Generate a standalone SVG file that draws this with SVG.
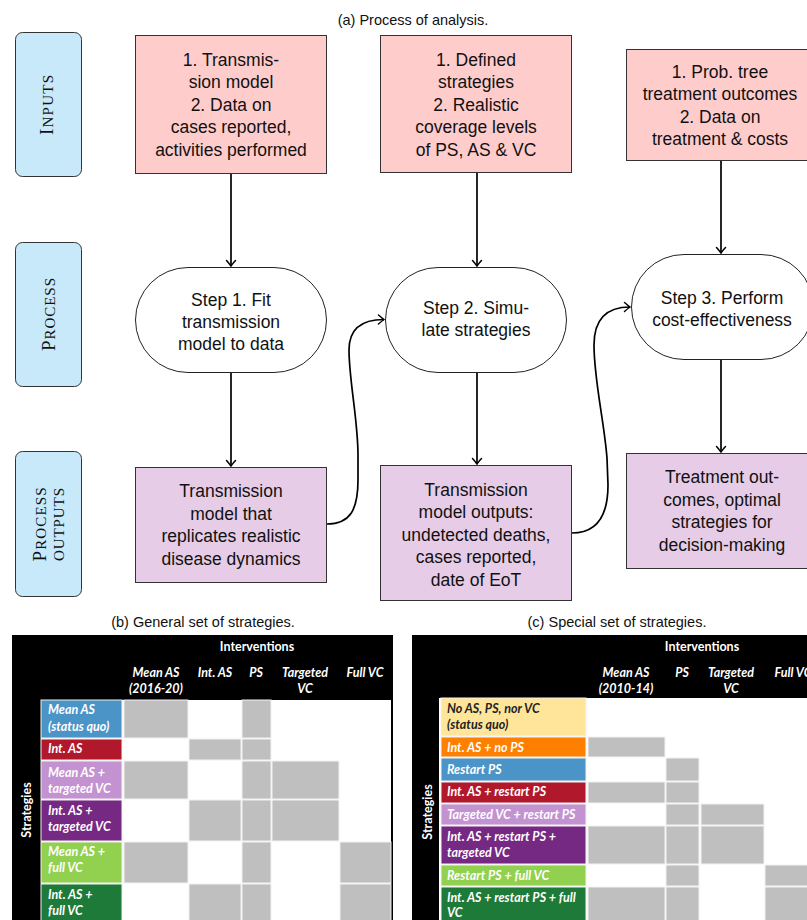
<svg xmlns="http://www.w3.org/2000/svg" width="807" height="920" viewBox="0 0 807 920">
<defs>
<style>
.cap{font-family:"Liberation Sans",Arial,sans-serif;font-size:14.5px;fill:#111;text-anchor:middle}
.nt{font-family:"Liberation Sans",Arial,sans-serif;font-size:17.5px;fill:#111;text-anchor:middle}
.lab{fill:#c8e9f9;stroke:#333;stroke-width:1}
.inp{fill:#ffcccc;stroke:#333;stroke-width:1}
.out{fill:#e6cce6;stroke:#333;stroke-width:1}
.stp{fill:#fff;stroke:#222;stroke-width:1}
.sc{font-family:"Liberation Serif","Times New Roman",serif;fill:#111;text-anchor:middle}
.big{font-size:19px}
.sm{font-size:15px}
.edge{fill:none;stroke:#000;stroke-width:1.7;marker-end:url(#ah)}
.tb{font-family:Lato,"Open Sans",sans-serif;font-weight:bold;font-style:italic;font-size:12.5px;fill:#fff}
.th{font-family:Lato,"Open Sans",sans-serif;font-weight:bold;font-size:12.5px;fill:#fff;text-anchor:middle}
.thi{font-family:Lato,"Open Sans",sans-serif;font-weight:bold;font-style:italic;font-size:12.5px;fill:#fff;text-anchor:middle}
.gc{fill:#bfbfbf;stroke:#f2f2f2;stroke-width:1}
.blk{fill:#000}
.lc{stroke:#f2f2f2;stroke-width:1}
</style>
<marker id="ah" viewBox="-7 -6 9 12" refX="0" refY="0" markerWidth="9" markerHeight="12" markerUnits="userSpaceOnUse" orient="auto">
<path d="M-5.5,-4.5 Q-1.5,-1 0,0 Q-1.5,1 -5.5,4.5" fill="none" stroke="#000" stroke-width="1.5" stroke-linecap="round"/>
</marker>
</defs>
<rect width="807" height="920" fill="#fff"/>

<g id="caption-a"><text class="cap" x="413" y="25">(a) Process of analysis.</text></g>

<g id="label-inputs">
<rect class="lab" x="15.5" y="32.5" width="66" height="144" rx="7"/>
<text class="sc" transform="translate(53,105) rotate(-90)" textLength="60" lengthAdjust="spacing"><tspan class="big">I</tspan><tspan class="sm">NPUTS</tspan></text>
</g>
<g id="label-process">
<rect class="lab" x="15.5" y="242.5" width="66" height="144" rx="7"/>
<text class="sc" transform="translate(54.5,314.5) rotate(-90)" textLength="73" lengthAdjust="spacing"><tspan class="big">P</tspan><tspan class="sm">ROCESS</tspan></text>
</g>
<g id="label-outputs">
<rect class="lab" x="15.5" y="451.5" width="66" height="145" rx="7"/>
<text class="sc" transform="translate(45.5,524.5) rotate(-90)" textLength="74" lengthAdjust="spacing"><tspan class="big">P</tspan><tspan class="sm">ROCESS</tspan></text>
<text class="sc sm" transform="translate(63.5,524.5) rotate(-90)" textLength="73" lengthAdjust="spacing">OUTPUTS</text>
</g>

<g id="in1">
<rect class="inp" x="135.5" y="35.5" width="191" height="138"/>
<text class="nt"><tspan x="231" y="65.5">1.  Transmis-</tspan><tspan x="231" y="88">sion model</tspan><tspan x="231" y="110.5">2.  Data on</tspan><tspan x="231" y="133">cases reported,</tspan><tspan x="231" y="155.5">activities performed</tspan></text>
</g>
<g id="in2">
<rect class="inp" x="380.5" y="35.5" width="191" height="137"/>
<text class="nt"><tspan x="476" y="65.5">1.  Defined</tspan><tspan x="476" y="88">strategies</tspan><tspan x="476" y="110.5">2.  Realistic</tspan><tspan x="476" y="133">coverage levels</tspan><tspan x="476" y="155.5">of PS, AS &amp; VC</tspan></text>
</g>
<g id="in3">
<rect class="inp" x="626.5" y="49.5" width="188" height="111"/>
<text class="nt"><tspan x="720" y="77.5">1.  Prob.  tree</tspan><tspan x="720" y="100">treatment outcomes</tspan><tspan x="720" y="122.5">2.  Data on</tspan><tspan x="720" y="145">treatment &amp; costs</tspan></text>
</g>

<g id="step1">
<rect class="stp" x="135.5" y="267.5" width="191" height="105" rx="52.5"/>
<text class="nt"><tspan x="231" y="305.5">Step 1.  Fit</tspan><tspan x="231" y="327.5">transmission</tspan><tspan x="231" y="349.5">model to data</tspan></text>
</g>
<g id="step2">
<rect class="stp" x="385.5" y="267.5" width="181" height="105" rx="52.5"/>
<text class="nt"><tspan x="476" y="314">Step 2.  Simu-</tspan><tspan x="476" y="336">late strategies</tspan></text>
</g>
<g id="step3">
<rect class="stp" x="631.5" y="254.5" width="182" height="105" rx="52.5"/>
<text class="nt"><tspan x="722" y="303.5">Step 3.  Perform</tspan><tspan x="722" y="325.5">cost-effectiveness</tspan></text>
</g>

<g id="out1">
<rect class="out" x="135.5" y="467.5" width="191" height="115"/>
<text class="nt"><tspan x="231" y="497">Transmission</tspan><tspan x="231" y="519.5">model that</tspan><tspan x="231" y="542">replicates realistic</tspan><tspan x="231" y="564.5">disease dynamics</tspan></text>
</g>
<g id="out2">
<rect class="out" x="380.5" y="465.5" width="191" height="135"/>
<text class="nt"><tspan x="476" y="495.5">Transmission</tspan><tspan x="476" y="518">model outputs:</tspan><tspan x="476" y="540.5">undetected deaths,</tspan><tspan x="476" y="563">cases reported,</tspan><tspan x="476" y="585.5">date of EoT</tspan></text>
</g>
<g id="out3">
<rect class="out" x="626.5" y="453.5" width="188" height="115"/>
<text class="nt"><tspan x="722" y="483">Treatment out-</tspan><tspan x="722" y="505.5">comes, optimal</tspan><tspan x="722" y="528">strategies for</tspan><tspan x="722" y="550.5">decision-making</tspan></text>
</g>

<g id="connectors">
<path class="edge" d="M231,174 L231,266"/>
<path class="edge" d="M477,173 L477,266"/>
<path class="edge" d="M721,161 L721,253"/>
<path class="edge" d="M231,373 L231,466"/>
<path class="edge" d="M477,373 L477,464"/>
<path class="edge" d="M721,360 L721,452"/>
<path class="edge" d="M327,524 C350,524 358,510 358,480 L358,455 C358,420 349,380 349,350 C349,330 360,319.5 384,319.5"/>
<path class="edge" d="M572,533 C598,533 608,515 608,485 L607,458 C604,420 594,380 594,345 C594,320 605,307 630,307"/>
</g>

<g id="caption-b"><text class="cap" x="203" y="627">(b) General set of strategies.</text></g>
<g id="table-b">
<rect class="blk" x="12" y="635" width="381" height="65"/>
<rect class="blk" x="12" y="700" width="29" height="220"/>
<rect fill="#fff" x="41" y="700" width="350" height="220"/>
<rect class="blk" x="391" y="700" width="2" height="220"/>
<text class="th" x="257" y="651">Interventions</text>
<text class="thi"><tspan x="156" y="677">Mean AS</tspan><tspan x="156" y="693">(2016-20)</tspan></text>
<text class="thi" x="215" y="677">Int. AS</text>
<text class="thi" x="256" y="677">PS</text>
<text class="thi"><tspan x="305" y="677">Targeted</tspan><tspan x="305" y="693">VC</tspan></text>
<text class="thi" x="365" y="677">Full VC</text>
<text class="th" transform="translate(31,810) rotate(-90)">Strategies</text>
<rect class="lc" fill="#4a94c7" x="41" y="700" width="81" height="38"/>
<rect class="lc" fill="#b2182b" x="41" y="739" width="81" height="21"/>
<rect class="lc" fill="#c392d0" x="41" y="761" width="81" height="38"/>
<rect class="lc" fill="#762982" x="41" y="800" width="81" height="41"/>
<rect class="lc" fill="#92d050" x="41" y="842" width="81" height="41"/>
<rect class="lc" fill="#1e7a39" x="41" y="884" width="81" height="40"/>
<text class="tb"><tspan x="48" y="714">Mean AS</tspan><tspan x="48" y="731">(status quo)</tspan></text>
<text class="tb" x="48" y="753">Int. AS</text>
<text class="tb"><tspan x="48" y="777">Mean AS +</tspan><tspan x="48" y="793">targeted VC</tspan></text>
<text class="tb"><tspan x="48" y="815">Int. AS +</tspan><tspan x="48" y="831">targeted VC</tspan></text>
<text class="tb"><tspan x="48" y="856">Mean AS +</tspan><tspan x="48" y="872">full VC</tspan></text>
<text class="tb"><tspan x="48" y="899">Int. AS +</tspan><tspan x="48" y="915">full VC</tspan></text>
<rect class="gc" x="124" y="700" width="64" height="38"/>
<rect class="gc" x="242" y="700" width="29" height="38"/>
<rect class="gc" x="189" y="739" width="52" height="21"/>
<rect class="gc" x="242" y="739" width="29" height="21"/>
<rect class="gc" x="124" y="761" width="64" height="38"/>
<rect class="gc" x="242" y="761" width="29" height="38"/>
<rect class="gc" x="272" y="761" width="67" height="38"/>
<rect class="gc" x="189" y="800" width="52" height="41"/>
<rect class="gc" x="242" y="800" width="29" height="41"/>
<rect class="gc" x="272" y="800" width="67" height="41"/>
<rect class="gc" x="124" y="842" width="64" height="41"/>
<rect class="gc" x="242" y="842" width="29" height="41"/>
<rect class="gc" x="340" y="842" width="51" height="41"/>
<rect class="gc" x="189" y="884" width="52" height="40"/>
<rect class="gc" x="242" y="884" width="29" height="40"/>
<rect class="gc" x="340" y="884" width="51" height="40"/>
</g>

<g id="caption-c"><text class="cap" x="617" y="627">(c) Special set of strategies.</text></g>
<g id="table-c">
<rect class="blk" x="412" y="635" width="400" height="63"/>
<rect class="blk" x="412" y="698" width="27" height="222"/>
<rect fill="#fff" x="439" y="698" width="370" height="222"/>
<text class="th" x="702" y="651">Interventions</text>
<text class="thi"><tspan x="626" y="677">Mean AS</tspan><tspan x="626" y="693">(2010-14)</tspan></text>
<text class="thi" x="682" y="677">PS</text>
<text class="thi"><tspan x="731" y="677">Targeted</tspan><tspan x="731" y="693">VC</tspan></text>
<text class="thi" x="793" y="677">Full VC</text>
<text class="th" transform="translate(432,812) rotate(-90)">Strategies</text>
<rect class="lc" fill="#ffe599" x="441" y="698" width="145" height="38"/>
<rect class="lc" fill="#ff8000" x="441" y="737" width="145" height="20"/>
<rect class="lc" fill="#4a94c7" x="441" y="758" width="145" height="23"/>
<rect class="lc" fill="#b2182b" x="441" y="782" width="145" height="21"/>
<rect class="lc" fill="#c392d0" x="441" y="804" width="145" height="21"/>
<rect class="lc" fill="#762982" x="441" y="826" width="145" height="38"/>
<rect class="lc" fill="#92d050" x="441" y="865" width="145" height="21"/>
<rect class="lc" fill="#1e7a39" x="441" y="887" width="145" height="40"/>
<text class="tb" style="fill:#222"><tspan x="447" y="713">No AS, PS, nor VC</tspan><tspan x="447" y="729">(status quo)</tspan></text>
<text class="tb" x="447" y="752">Int. AS + no PS</text>
<text class="tb" x="447" y="774">Restart PS</text>
<text class="tb" x="447" y="796">Int. AS + restart PS</text>
<text class="tb" x="447" y="819">Targeted VC + restart PS</text>
<text class="tb"><tspan x="447" y="841">Int. AS + restart PS +</tspan><tspan x="447" y="857">targeted VC</tspan></text>
<text class="tb" x="447" y="880">Restart PS + full VC</text>
<text class="tb"><tspan x="447" y="902">Int. AS + restart PS + full</tspan><tspan x="447" y="917">VC</tspan></text>
<rect class="gc" x="588" y="737" width="77" height="20"/>
<rect class="gc" x="666" y="758" width="33" height="23"/>
<rect class="gc" x="588" y="782" width="77" height="21"/>
<rect class="gc" x="666" y="782" width="33" height="21"/>
<rect class="gc" x="666" y="804" width="33" height="21"/>
<rect class="gc" x="701" y="804" width="63" height="21"/>
<rect class="gc" x="588" y="826" width="77" height="38"/>
<rect class="gc" x="666" y="826" width="33" height="38"/>
<rect class="gc" x="701" y="826" width="63" height="38"/>
<rect class="gc" x="666" y="865" width="33" height="21"/>
<rect class="gc" x="765" y="865" width="50" height="21"/>
<rect class="gc" x="588" y="887" width="77" height="40"/>
<rect class="gc" x="666" y="887" width="33" height="40"/>
<rect class="gc" x="765" y="887" width="50" height="40"/>
</g>
</svg>
